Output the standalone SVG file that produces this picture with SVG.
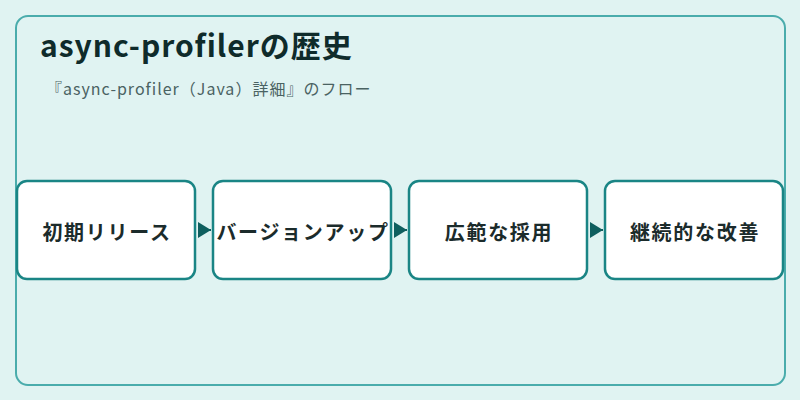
<svg xmlns="http://www.w3.org/2000/svg" width="800" height="400" viewBox="0 0 800 400">
<style>
.node rect{fill:#ffffff;stroke:#1a8585;stroke-width:2.5}
.node text{font-family:"Noto Sans CJK JP","Noto Sans",sans-serif;font-size:20px;font-weight:bold;fill:#1b2b2b;text-anchor:middle;dominant-baseline:central;letter-spacing:1.7px}
.edge{stroke:#0f5f5f;stroke-width:2;fill:none}
</style>
<defs>
<marker id="ah" viewBox="0 0 10 10" refX="10" refY="5" markerWidth="13" markerHeight="16" markerUnits="userSpaceOnUse" orient="auto" preserveAspectRatio="none">
<path d="M0,0 L10,5 L0,10 Z" fill="#0f5f5f"/>
</marker>
</defs>
<rect x="0" y="0" width="800" height="400" fill="#e0f3f2"/>
<rect x="16" y="16" width="769" height="369" rx="12" fill="#e0f3f2" stroke="#4aacac" stroke-width="2"/>
<text x="40" y="57" font-family="'Noto Sans CJK JP','Noto Sans',sans-serif" font-size="30" font-weight="bold" fill="#0f2b2b" letter-spacing="1">async-profilerの歴史</text>
<text x="46" y="95" font-family="'Noto Sans CJK JP','Noto Sans',sans-serif" font-size="16" fill="#4a6262" letter-spacing="1">『async-profiler（Java）詳細』のフロー</text>
<g id="connectors">
<line class="edge" x1="199" y1="230" x2="211" y2="230" marker-end="url(#ah)"/>
<line class="edge" x1="395" y1="230" x2="407" y2="230" marker-end="url(#ah)"/>
<line class="edge" x1="591" y1="230" x2="603" y2="230" marker-end="url(#ah)"/>
</g>
<g id="node1" class="node"><rect x="17" y="181" width="178" height="98" rx="10"/><text x="107" y="231">初期リリース</text></g>
<g id="node2" class="node"><rect x="213" y="181" width="178" height="98" rx="10"/><text x="303" y="231">バージョンアップ</text></g>
<g id="node3" class="node"><rect x="409" y="181" width="178" height="98" rx="10"/><text x="499" y="231">広範な採用</text></g>
<g id="node4" class="node"><rect x="605" y="181" width="178" height="98" rx="10"/><text x="695" y="231">継続的な改善</text></g>
</svg>
